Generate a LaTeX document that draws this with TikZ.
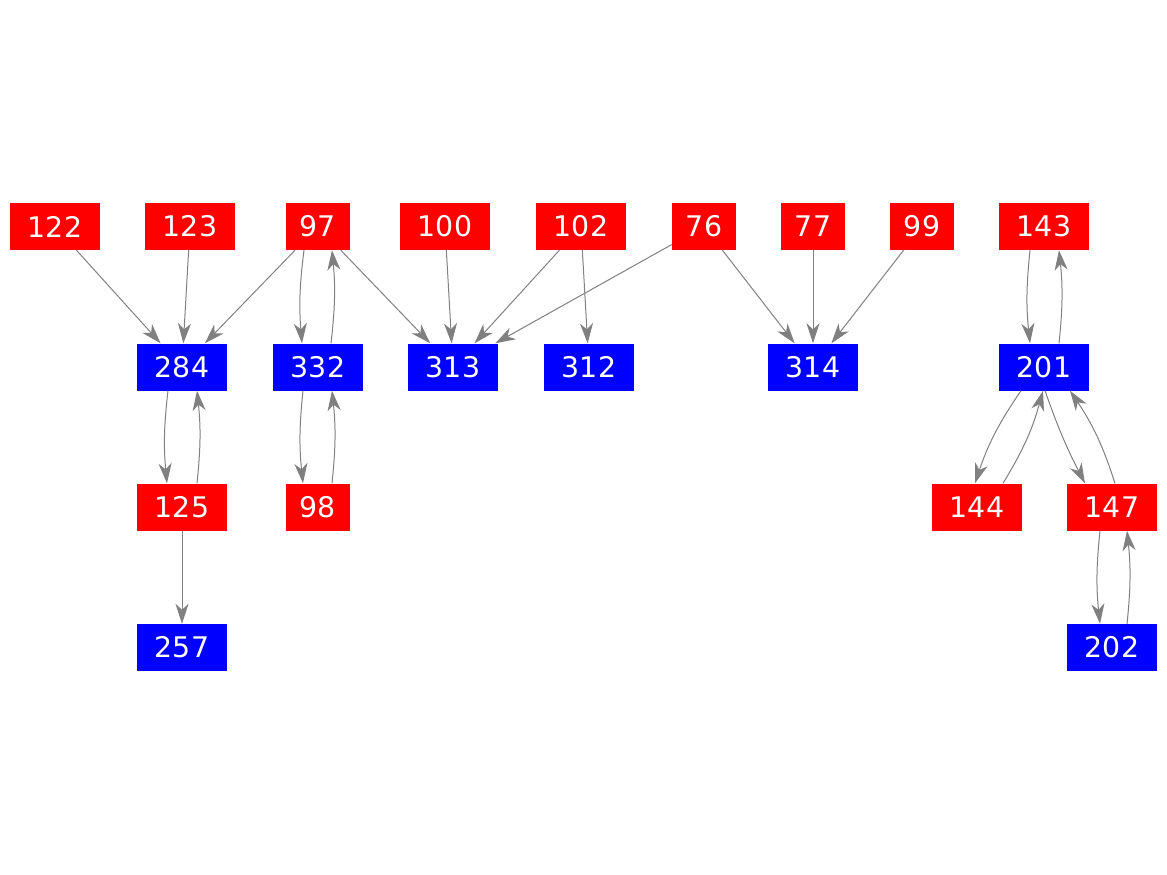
\documentclass[tikz,border=0pt]{standalone}
\usepackage{fontspec}
\setmainfont{DejaVu Sans}
\usetikzlibrary{arrows.meta}
\begin{document}
\begin{tikzpicture}[x=1pt,y=1pt,
  box/.style={minimum width=90pt,minimum height=47pt,inner sep=0pt,text=white,font=\fontsize{28.4}{30}\selectfont},
  rbox/.style={box,fill=red},
  bbox/.style={box,fill=blue},
  narrow/.style={minimum width=64pt},
  e/.style={draw={rgb,255:red,128;green,128;blue,128},line width=1pt,-{Stealth[length=20pt,width=13pt,inset=6pt]}}]
\path[use as bounding box] (0,0) rectangle (1167,-875);
% row 1
\node[rbox] (n122) at (55,-226.5) {122};
\node[rbox] (n123) at (190,-226.5) {123};
\node[rbox,narrow] (n97) at (318,-226.5) {97};
\node[rbox] (n100) at (445,-226.5) {100};
\node[rbox] (n102) at (581,-226.5) {102};
\node[rbox,narrow] (n76) at (704,-226.5) {76};
\node[rbox,narrow] (n77) at (813,-226.5) {77};
\node[rbox,narrow] (n99) at (922,-226.5) {99};
\node[rbox] (n143) at (1044,-226.5) {143};
% row 2
\node[bbox] (n284) at (182,-367) {284};
\node[bbox] (n332) at (318,-367) {332};
\node[bbox] (n313) at (453,-367) {313};
\node[bbox] (n312) at (589,-367) {312};
\node[bbox] (n314) at (813,-367) {314};
\node[bbox] (n201) at (1044,-367) {201};
% row 3
\node[rbox] (n125) at (182,-507) {125};
\node[rbox,narrow] (n98) at (318,-507) {98};
\node[rbox] (n144) at (977,-507) {144};
\node[rbox] (n147) at (1112,-507) {147};
% row 4
\node[bbox] (n257) at (182,-647.5) {257};
\node[bbox] (n202) at (1112,-647.5) {202};
% straight edges
\draw[e] (n122) -- (n284);
\draw[e] (n123) -- (n284);
\draw[e] (n97) -- (n284);
\draw[e] (n97) -- (n313);
\draw[e] (n100) -- (n313);
\draw[e] (n102) -- (n313);
\draw[e] (n102) -- (n312);
\draw[e] (n76) -- (n313);
\draw[e] (n76) -- (n314);
\draw[e] (n77) -- (n314);
\draw[e] (n99) -- (n314);
\draw[e] (n125) -- (n257);
% curved pairs
\draw[e] ([xshift=-14pt]n97.south) to[bend right=6] ([xshift=-16pt]n332.north);
\draw[e] ([xshift=13pt]n332.north) to[bend right=6] ([xshift=14pt]n97.south);
\draw[e] ([xshift=-14pt]n284.south) to[bend right=6] ([xshift=-15pt]n125.north);
\draw[e] ([xshift=15pt]n125.north) to[bend right=6] ([xshift=15pt]n284.south);
\draw[e] ([xshift=-15pt]n332.south) to[bend right=6] ([xshift=-15pt]n98.north);
\draw[e] ([xshift=14pt]n98.north) to[bend right=6] ([xshift=14pt]n332.south);
\draw[e] ([xshift=-14pt]n143.south) to[bend right=6] ([xshift=-14pt]n201.north);
\draw[e] ([xshift=15pt]n201.north) to[bend right=6] ([xshift=15pt]n143.south);
\draw[e] ([xshift=-12pt]n147.south) to[bend right=6] ([xshift=-12pt]n202.north);
\draw[e] ([xshift=15pt]n202.north) to[bend right=6] ([xshift=15pt]n147.south);
\draw[e] ([xshift=-23pt]n201.south) to[bend right=8] ([xshift=-2pt]n144.north);
\draw[e] ([xshift=26pt]n144.north) to[bend right=8] ([xshift=-1pt]n201.south);
\draw[e] ([xshift=1pt]n201.south) to[bend right=4] ([xshift=-27pt]n147.north);
\draw[e] ([xshift=3pt]n147.north) to[bend right=8] ([xshift=26pt]n201.south);
\end{tikzpicture}
\end{document}
